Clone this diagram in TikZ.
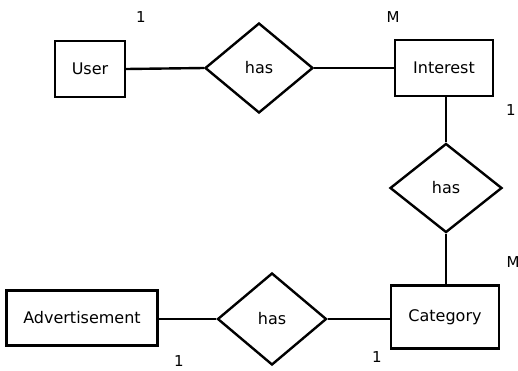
\documentclass[tikz,border=0pt]{standalone}
\usepackage{fontspec}
\setmainfont{DejaVu Sans}
\usetikzlibrary{shapes.geometric}
\begin{document}
\begin{tikzpicture}[x=1pt,y=-1pt,
  ent/.style={draw,line width=2.4pt,inner sep=0pt,font=\fontsize{16}{18}\selectfont},
  rel/.style={draw,diamond,line width=2.4pt,inner sep=0pt,font=\fontsize{16}{18}\selectfont},
  card/.style={font=\fontsize{15}{17}\selectfont,inner sep=0pt},
  conn/.style={line width=2.4pt}]
\useasboundingbox (0,0) rectangle (518,370);
\node[ent,minimum width=70pt,minimum height=56pt] (user) at (90,69) {User};
\node[ent,minimum width=98pt,minimum height=56pt] (interest) at (444,68) {Interest};
\node[rel,minimum width=108pt,minimum height=90pt] (d1) at (259,68) {has};
\node[rel,minimum width=112pt,minimum height=89pt] (d2) at (446,188) {has};
\node[ent,minimum width=108pt,minimum height=63pt] (cat) at (445,317) {Category};
\node[ent,minimum width=151pt,minimum height=55pt] (adv) at (82,318) {Advertisement};
\node[rel,minimum width=109pt,minimum height=92pt] (d3) at (272,319) {has};
\draw[conn] (user.east) -- (d1.west);
\draw[conn] (d1.east) -- (interest.west |- d1.east);
\draw[conn] (d2.north) -- (d2.north |- interest.south);
\draw[conn] (d2.south) -- (d2.south |- cat.north);
\draw[conn] (adv.east |- d3.west) -- (d3.west);
\draw[conn] (d3.east) -- (cat.west |- d3.east);
\node[card] (c1) at (141,17) {1};
\node[card] (c2) at (393,17) {M};
\node[card] (c3) at (511,110) {1};
\node[card] (c4) at (513,262) {M};
\node[card] (c5) at (179,361) {1};
\node[card] (c6) at (377,357) {1};
\end{tikzpicture}
\end{document}
